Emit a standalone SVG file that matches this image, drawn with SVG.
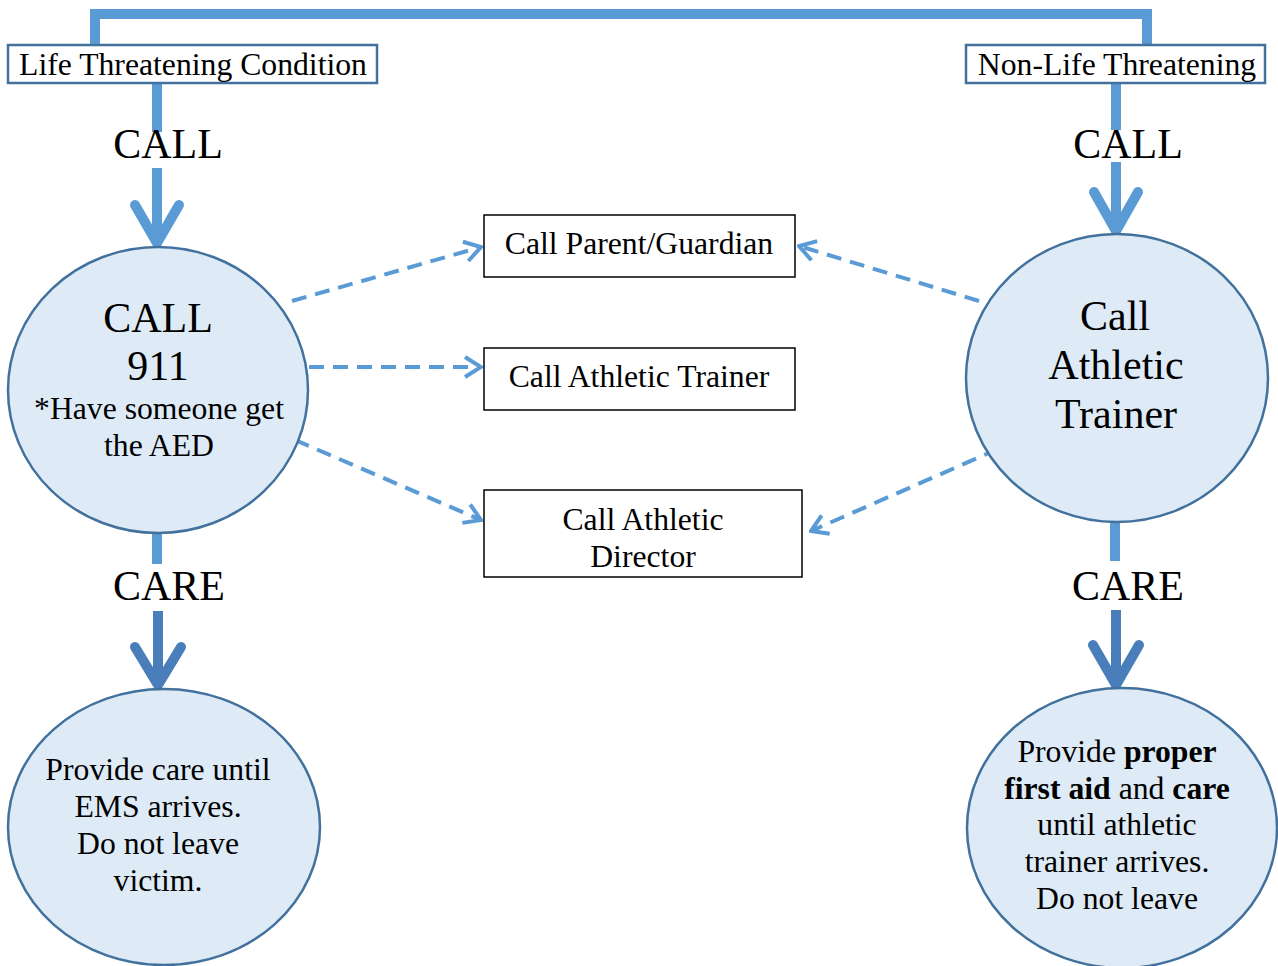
<svg xmlns="http://www.w3.org/2000/svg" width="1278" height="966" viewBox="0 0 1278 966">
<style>
.t{font-family:"Liberation Serif","Times New Roman",serif;fill:#000;text-anchor:middle}
.big{font-size:42px}
.mid{font-size:31.7px}
.b{font-weight:bold}
.circ{fill:#DEEBF7;stroke:#41719C;stroke-width:2.5}
.hbox{fill:#fff;stroke:#41719C;stroke-width:2.5}
.box{fill:#fff;stroke:#000;stroke-width:1.5}
.thick{fill:none;stroke:#5B9BD5;stroke-width:10}
.thick2{fill:none;stroke:#4A7EBB;stroke-width:10}
.chev{fill:none;stroke-width:10;stroke-linecap:round;stroke-linejoin:round}
.dash{fill:none;stroke:#5B9BD5;stroke-width:4;stroke-dasharray:15 9;marker-end:url(#open)}
</style>
<defs>
<marker id="open" markerUnits="userSpaceOnUse" viewBox="0 0 20 24" markerWidth="20" markerHeight="24" refX="18" refY="12" orient="auto">
<path d="M2,2 L18,12 L2,22" fill="none" stroke="#5B9BD5" stroke-width="4"/>
</marker>
</defs>
<rect width="1278" height="966" fill="#fff"/>
<g id="connectors">
<path class="thick" d="M95,46 V14 H1147 V46"/>
<path class="thick" d="M157,84 V132"/>
<path class="thick" d="M157,168 V240"/>
<path class="chev" stroke="#5B9BD5" d="M135,205 L157,243 L179,205"/>
<path class="thick" d="M1116,84 V130"/>
<path class="thick" d="M1116,162 V228"/>
<path class="chev" stroke="#5B9BD5" d="M1094,192 L1116,231 L1138,192"/>
<path class="thick" d="M157,516 V564"/>
<path class="thick2" d="M158,611 V682"/>
<path class="chev" stroke="#4A7EBB" d="M135,647 L158,685 L181,647"/>
<path class="thick" d="M1115,507 V561"/>
<path class="thick2" d="M1116,610 V682"/>
<path class="chev" stroke="#4A7EBB" d="M1093,645 L1116,685 L1139,645"/>
<path class="dash" d="M292,301 L481,247"/>
<path class="dash" d="M309,367 L481,367"/>
<path class="dash" d="M295,440 L481,520"/>
<path class="dash" d="M979,301 L799,246"/>
<path class="dash" d="M998,449 L811,531"/>
</g>
<g id="labels">
<text class="t big" x="168" y="158">CALL</text>
<text class="t big" x="1128" y="158">CALL</text>
<text class="t big" x="169" y="600">CARE</text>
<text class="t big" x="1128" y="600">CARE</text>
</g>
<g id="life">
<rect class="hbox" x="8" y="45" width="369" height="38"/>
<text class="t mid" x="193" y="75">Life Threatening Condition</text>
</g>
<g id="nonlife">
<rect class="hbox" x="966" y="45" width="299" height="38"/>
<text class="t mid" x="1117" y="75">Non-Life Threatening</text>
</g>
<g id="call911">
<ellipse class="circ" cx="158" cy="390" rx="150" ry="143"/>
<text class="t big" x="158" y="332">CALL</text>
<text class="t big" x="158" y="380">911</text>
<text class="t mid" x="159" y="419">*Have someone get</text>
<text class="t mid" x="159" y="456">the AED</text>
</g>
<g id="callat">
<ellipse class="circ" cx="1117" cy="378" rx="151" ry="144"/>
<text class="t big" x="1115" y="330">Call</text>
<text class="t big" x="1116" y="379">Athletic</text>
<text class="t big" x="1116" y="428">Trainer</text>
</g>
<g id="parent">
<rect class="box" x="484" y="215" width="311" height="62"/>
<text class="t mid" x="639" y="254">Call Parent/Guardian</text>
</g>
<g id="trainer">
<rect class="box" x="484" y="348" width="311" height="62"/>
<text class="t mid" x="639" y="387">Call Athletic Trainer</text>
</g>
<g id="director">
<rect class="box" x="484" y="490" width="318" height="87"/>
<text class="t mid" x="643" y="530">Call Athletic</text>
<text class="t mid" x="643" y="567">Director</text>
</g>
<g id="careems">
<ellipse class="circ" cx="164" cy="827" rx="156" ry="138"/>
<text class="t mid" x="158" y="780">Provide care until</text>
<text class="t mid" x="158" y="817">EMS arrives.</text>
<text class="t mid" x="158" y="854">Do not leave</text>
<text class="t mid" x="158" y="891">victim.</text>
</g>
<g id="careat">
<ellipse class="circ" cx="1122" cy="828" rx="155" ry="140"/>
<text class="t mid" x="1117" y="762">Provide <tspan class="b">proper</tspan></text>
<text class="t mid" x="1117" y="799"><tspan class="b">first aid</tspan> and <tspan class="b">care</tspan></text>
<text class="t mid" x="1117" y="835">until athletic</text>
<text class="t mid" x="1117" y="872">trainer arrives.</text>
<text class="t mid" x="1117" y="909">Do not leave</text>
</g>
</svg>
